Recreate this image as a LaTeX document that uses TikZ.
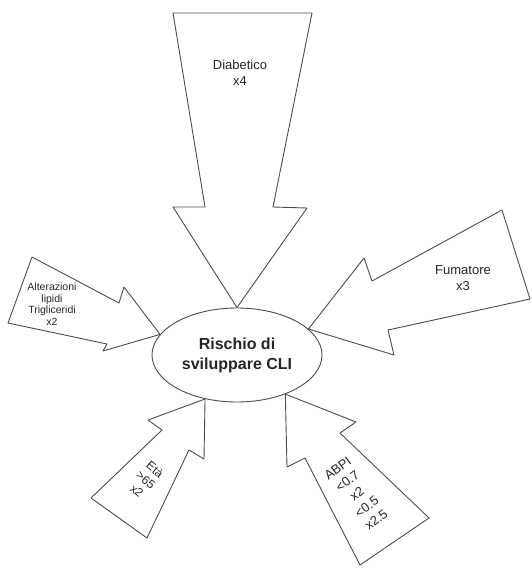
\documentclass[tikz,border=0pt]{standalone}
\usepackage{fontspec}
\setmainfont{Liberation Sans}
\usetikzlibrary{shapes, positioning, calc}

\begin{document}
\begin{tikzpicture}[x=1pt, y=-1pt, line width=0.9pt,
	lbl/.style={align=center, text=black!85, font=\fontsize{13}{16}\selectfont},
	freccia/.style={draw=black!70, line join=round}]
	\useasboundingbox (0,0) rectangle (531,568);
	\node[ellipse, draw=black!70, minimum width=170pt, minimum height=94pt, inner sep=0pt,
		align=center, text=black!85, font=\bfseries\fontsize{16}{20}\selectfont] (cli) at (237,355) {Rischio di\\sviluppare CLI};
	% frecce verso il centro
	\draw[freccia] (cli.north) -- (173,207) -- (205,207) -- (173,13) -- (312,13) -- (273,207) -- (307,208) -- cycle;
	\draw[freccia] (cli.20) -- (364,258) -- (372,281) -- (502,210) -- (530,299) -- (388,330) -- (394,355) -- cycle;
	\draw[freccia] (cli.165) -- (103,351) -- (107,344) -- (8,323) -- (32,257) -- (119,303) -- (124,287) -- cycle;
	\draw[freccia] (cli.234) -- (148,420) -- (162,430) -- (91,498) -- (147,538) -- (189,450) -- (204,459) -- cycle;
	\draw[freccia] (cli.321) -- (356,422) -- (340,433) -- (429,518) -- (360,565) -- (305,458) -- (287,467) -- cycle;
	% fattori
	\node[lbl] (diab) at (240,73) {Diabetico\\x4};
	\node[lbl] (fum) at (463,278) {Fumatore\\x3};
	\node[lbl, font=\fontsize{10.5}{11.5}\selectfont] (alt) at (52,304) {Alterazioni\\lipidi\\Trigliceridi\\x2};
	\node[lbl, font=\fontsize{12}{14}\selectfont, rotate=-40] (eta) at (146,480) {Età\\>65\\x2};
	\node[lbl, rotate=37] (abpi) at (357,494) {ABPI\\<0.7\\x2\\<0.5\\x2.5};
\end{tikzpicture}
\end{document}
